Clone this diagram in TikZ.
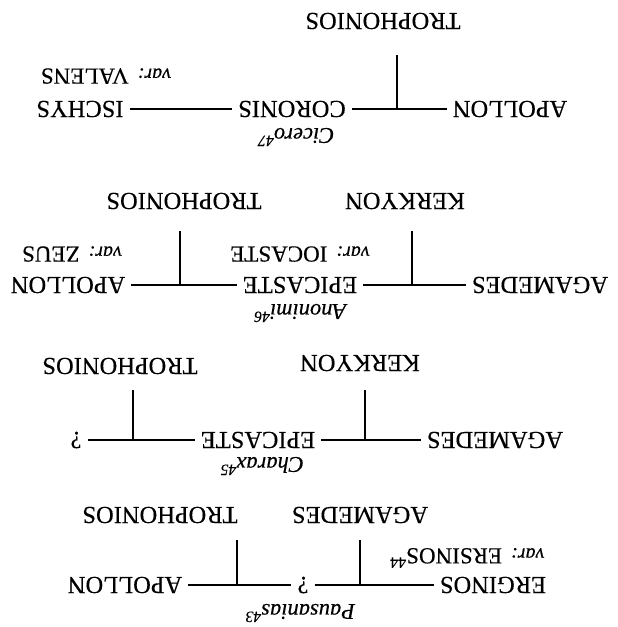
\documentclass[tikz,border=0pt]{standalone}
\usepackage{fontspec}
\setmainfont{Liberation Serif}[FakeBold=0.35]
\newcommand{\namefont}{\fontsize{24.5}{28}\selectfont}
\newcommand{\srcfont}{\fontsize{22.5}{26}\selectfont\itshape}
\newcommand{\varlab}{{\fontsize{20}{22}\selectfont\itshape var:}\hspace{9pt}}
\begin{document}
\begin{tikzpicture}[x=1pt,y=1pt,
  nm/.style={rotate=180, font=\namefont, inner xsep=6pt, inner ysep=0pt},
  vr/.style={rotate=180, font=\fontsize{23}{26}\selectfont, inner sep=0pt},
  src/.style={rotate=180, font=\srcfont, inner sep=0pt},
  ln/.style={line width=2.6pt}]
\path[use as bounding box] (0,0) rectangle (618,-627);
% Row 1 (Cicero)
\node[nm] (troA) at (383,-21) {TROPHONIOS};
\node[nm] (apoA) at (510,-109) {APOLLON};
\node[nm] (corA) at (292,-109) {CORONIS};
\node[nm] (iscA) at (80,-109) {ISCHYS};
\node[vr] (varA) at (106,-76) {\varlab VALENS};
\node[src] (citA) at (296,-137) {Cicero\textsuperscript{47}};
\coordinate (jA) at (397,-109);
\coordinate (kA) at (397,-55);
\draw[ln] (iscA) -- (corA);
\draw[ln] (corA) -- (apoA);
\draw[ln] (kA) -- (jA);
% Row 2 (Anonimi)
\node[nm] (troB) at (184,-201) {TROPHONIOS};
\node[nm] (kerB) at (405,-201) {KERKYON};
\node[nm] (apoB) at (68,-285) {APOLLON};
\node[nm] (epiB) at (300,-285) {EPICASTE};
\node[nm] (agaB) at (540,-285) {AGAMEDES};
\node[vr] (varB1) at (72,-254) {\varlab ZEUS};
\node[vr] (varB2) at (300,-254) {\varlab IOCASTE};
\node[src] (anoB) at (300,-313) {Anonimi\textsuperscript{46}};
\coordinate (jB1) at (180,-285);
\coordinate (kB1) at (180,-231);
\coordinate (jB2) at (412,-285);
\coordinate (kB2) at (412,-231);
\draw[ln] (apoB) -- (epiB);
\draw[ln] (epiB) -- (agaB);
\draw[ln] (kB1) -- (jB1);
\draw[ln] (kB2) -- (jB2);
% Row 3 (Charax)
\node[nm] (troC) at (120,-366) {TROPHONIOS};
\node[nm] (kerC) at (360,-363) {KERKYON};
\node[nm] (qC) at (76,-440) {?};
\node[nm] (epiC) at (258,-440) {EPICASTE};
\node[nm] (agaC) at (495,-440) {AGAMEDES};
\node[src] (chaC) at (262,-466) {Charax\textsuperscript{45}};
\coordinate (jC1) at (133,-440);
\coordinate (kC1) at (133,-390);
\coordinate (jC2) at (365,-440);
\coordinate (kC2) at (365,-390);
\draw[ln] (qC) -- (epiC);
\draw[ln] (epiC) -- (agaC);
\draw[ln] (kC1) -- (jC1);
\draw[ln] (kC2) -- (jC2);
% Row 4 (Pausanias)
\node[nm] (troD) at (160,-515) {TROPHONIOS};
\node[nm] (agaD) at (360,-515) {AGAMEDES};
\node[nm] (apoD) at (125,-585) {APOLLON};
\node[nm] (qD) at (303,-585) {?};
\node[nm] (ergD) at (493,-585) {ERGINOS};
\node[vr] (varD) at (467,-558) {\varlab ERSINOS\textsuperscript{44}};
\node[src] (pauD) at (300,-613) {Pausanias\textsuperscript{43}};
\coordinate (jD1) at (237,-585);
\coordinate (kD1) at (237,-540);
\coordinate (jD2) at (360,-585);
\coordinate (kD2) at (360,-540);
\draw[ln] (apoD) -- (qD);
\draw[ln] (qD) -- (ergD);
\draw[ln] (kD1) -- (jD1);
\draw[ln] (kD2) -- (jD2);
\end{tikzpicture}
\end{document}
